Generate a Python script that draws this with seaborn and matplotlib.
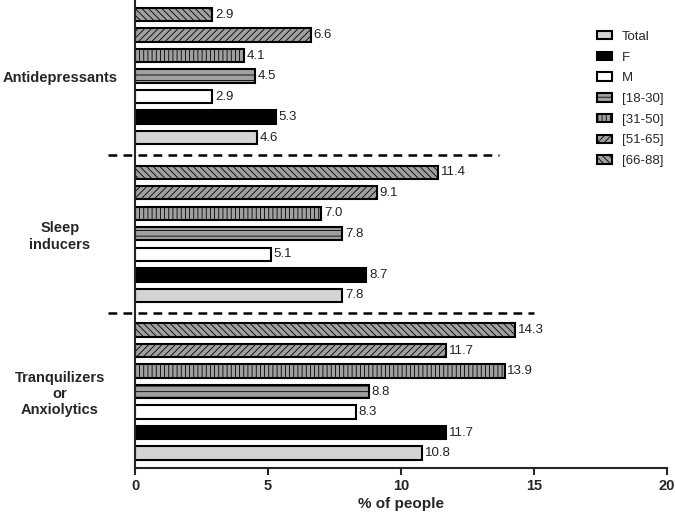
import pandas as pd
import matplotlib.pyplot as plt
import seaborn as sns

# Daten
drugs = ["Antidepressants", "Sleep\ninducers", "Tranquilizers\nor\nAnxiolytics"]
groups = ["[66-88]", "[51-65]", "[31-50]", "[18-30]", "M", "F", "Total"]  # top -> bottom
total = [4.6, 7.8, 10.8]
female = [5.3, 8.7, 11.7]
male = [2.9, 5.1, 8.3]
age_18_30 = [4.5, 7.8, 8.8]
age_31_50 = [4.1, 7.0, 13.9]
age_51_65 = [6.6, 9.1, 11.7]
age_66_88 = [2.9, 11.4, 14.3]

values = {
    "Total": total, "F": female, "M": male,
    "[18-30]": age_18_30, "[31-50]": age_31_50,
    "[51-65]": age_51_65, "[66-88]": age_66_88,
}
rows = []
for g in groups:
    for d, v in zip(drugs, values[g]):
        rows.append({"drug": d, "group": g, "pct": v})
df = pd.DataFrame(rows)

# Stil
sns.set_style("ticks")
plt.rcParams["font.family"] = ["Liberation Sans", "DejaVu Sans"]
plt.rcParams["hatch.linewidth"] = 0.6

gray = "#a0a0a0"
colors = {"[66-88]": gray, "[51-65]": gray, "[31-50]": gray, "[18-30]": gray,
          "M": "white", "F": "black", "Total": "#d4d4d4"}
hatches = {"[66-88]": "\\\\\\\\\\", "[51-65]": "/////", "[31-50]": "||||",
           "[18-30]": "---", "M": "", "F": "", "Total": ""}

fig = plt.figure(figsize=(6.75, 5.15), dpi=100)
ax = fig.add_axes([0.2, 0.091, 0.788, 0.909])

sns.barplot(data=df, x="pct", y="drug", hue="group", hue_order=groups,
            order=drugs, palette=colors, orient="h", width=0.91, gap=0.35,
            edgecolor="black", linewidth=1.5, legend=False, ax=ax)

for cont, g in zip(ax.containers, groups):
    for bar in cont:
        bar.set_hatch(hatches[g])
    ax.bar_label(cont, fmt="%.1f", padding=2, fontsize=9.5, color="#222222")

# gestrichelte Trennlinien
ax.plot([-1, 13.7], [0.5, 0.5], ls=(0, (3.5, 2.5)), color="black", lw=1.8, clip_on=False)
ax.plot([-1, 15.0], [1.5, 1.5], ls=(0, (3.5, 2.5)), color="black", lw=1.8, clip_on=False)

ax.set_xlim(0, 20)
ax.set_xticks([0, 5, 10, 15, 20])
ax.set_ylim(2.485, -0.482)
ax.set_xlabel("% of people", fontsize=11, fontweight="bold", labelpad=3)
ax.set_ylabel("")

for lab in ax.get_xticklabels():
    lab.set_fontweight("bold")
    lab.set_fontsize(10.5)
ax.tick_params(axis="x", length=5, width=1.5, pad=3)
ax.tick_params(axis="y", length=0, pad=54)
for lab in ax.get_yticklabels():
    lab.set_fontweight("bold")
    lab.set_fontsize(10.5)
    lab.set_horizontalalignment("center")
    lab.set_multialignment("center")

for s in ["top", "right"]:
    ax.spines[s].set_visible(False)
for s in ["left", "bottom"]:
    ax.spines[s].set_linewidth(1.5)

# Legende (umgekehrte Reihenfolge)
handles = list(ax.containers)[::-1]
labels = groups[::-1]
ax.legend(handles, labels, loc="upper left", bbox_to_anchor=(0.868, 0.934),
          frameon=False, fontsize=9.5, handlelength=1.15, handleheight=0.6,
          labelspacing=0.66, handletextpad=0.75, borderpad=0, borderaxespad=0)

plt.savefig("out.png", dpi=100)
